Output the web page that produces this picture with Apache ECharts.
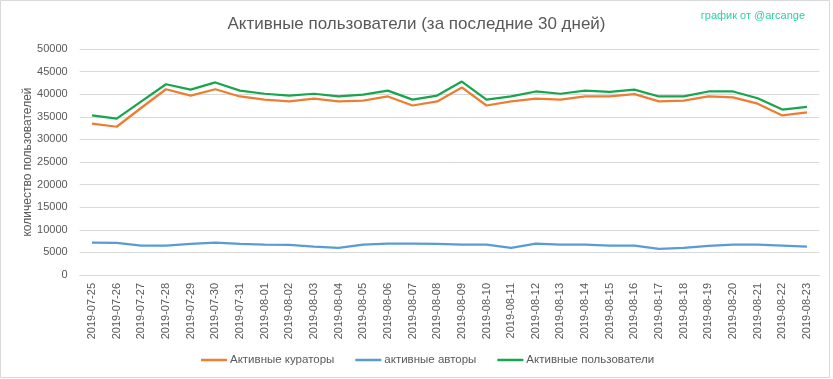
<!DOCTYPE html>
<html>
<head>
<meta charset="utf-8">
<script src="https://cdn.jsdelivr.net/npm/echarts@6/dist/echarts.min.js"></script>
<style>
html,body{margin:0;padding:0;background:#fff;}
#chart{width:833px;height:379px;}
</style>
</head>
<body>
<div id="chart"></div>
<script>
const categories = ['2019-07-25','2019-07-26','2019-07-27','2019-07-28','2019-07-29','2019-07-30','2019-07-31','2019-08-01','2019-08-02','2019-08-03','2019-08-04','2019-08-05','2019-08-06','2019-08-07','2019-08-08','2019-08-09','2019-08-10','2019-08-11','2019-08-12','2019-08-13','2019-08-14','2019-08-15','2019-08-16','2019-08-17','2019-08-18','2019-08-19','2019-08-20','2019-08-21','2019-08-22','2019-08-23'];
const curators = [33500,32800,37000,41100,39700,41100,39500,38800,38400,39000,38400,38600,39500,37500,38400,41500,37500,38400,39000,38800,39500,39500,40000,38400,38600,39500,39300,37900,35300,36000];
const authors = [7150,7100,6500,6500,6900,7150,6900,6700,6650,6300,6000,6700,6950,6950,6900,6700,6700,6000,6950,6700,6700,6500,6500,5800,6000,6450,6700,6700,6500,6300];
const users = [35300,34600,38400,42200,41000,42600,40800,40100,39700,40100,39500,39900,40800,38800,39700,42800,38800,39500,40600,40100,40800,40500,41000,39500,39500,40600,40600,39100,36600,37200];

const FONT = '"Liberation Sans", Arial, sans-serif';
const chart = echarts.init(document.getElementById('chart'), null, {renderer:'canvas'});
chart.setOption({
  animation:false,
  backgroundColor:'#ffffff',
  graphic:[{type:'rect', shape:{x:0.5,y:0.5,width:829,height:377}, style:{fill:'none', stroke:'#d9d9d9', lineWidth:1}, silent:true}],
  title:[{
    text:'Активные пользователи (за последние 30 дней)',
    left:'center', top:11,
    textStyle:{fontFamily:FONT, fontSize:17, fontWeight:'normal', color:'#595959'}
  },{
    text:'график от @arcange',
    right:23, top:5,
    textStyle:{fontFamily:FONT, fontSize:11, fontWeight:'normal', color:'#2ecfa3'}
  }],
  legend:{
    top:349, left:196,
    icon:'rect', itemWidth:26, itemHeight:2.5, itemGap:21,
    textStyle:{fontFamily:FONT, fontSize:11.5, color:'#595959', padding:[0,0,0,-2]},
    data:['Активные кураторы','активные авторы','Активные пользователи']
  },
  grid:{left:79.7, right:13.7, top:49, bottom:104, containLabel:false},
  xAxis:{
    type:'category', data:categories, boundaryGap:true,
    axisLine:{lineStyle:{color:'#d9d9d9'}},
    axisTick:{show:false},
    axisLabel:{rotate:90, interval:0, margin:8, fontFamily:FONT, fontSize:11, color:'#595959'}
  },
  yAxis:{
    type:'value', min:0, max:50000, interval:5000,
    name:'количество пользователей', nameLocation:'middle', nameGap:46, nameMoveOverlap:false,
    nameTextStyle:{fontFamily:FONT, fontSize:12, color:'#595959'},
    axisLine:{show:false}, axisTick:{show:false},
    axisLabel:{margin:12, fontFamily:FONT, fontSize:11, color:'#595959', formatter:function(v){return String(v);}},
    splitLine:{lineStyle:{color:'#d9d9d9'}}
  },
  series:[
    {name:'Активные кураторы', type:'line', data:curators, showSymbol:false, symbol:'none', lineStyle:{width:2.25, color:'#ED7D31'}, itemStyle:{color:'#ED7D31'}, z:3},
    {name:'активные авторы', type:'line', data:authors, showSymbol:false, symbol:'none', lineStyle:{width:2.25, color:'#5B9BD5'}, itemStyle:{color:'#5B9BD5'}, z:2},
    {name:'Активные пользователи', type:'line', data:users, showSymbol:false, symbol:'none', lineStyle:{width:2.25, color:'#16A64E'}, itemStyle:{color:'#16A64E'}, z:4}
  ]
});
</script>
</body>
</html>
